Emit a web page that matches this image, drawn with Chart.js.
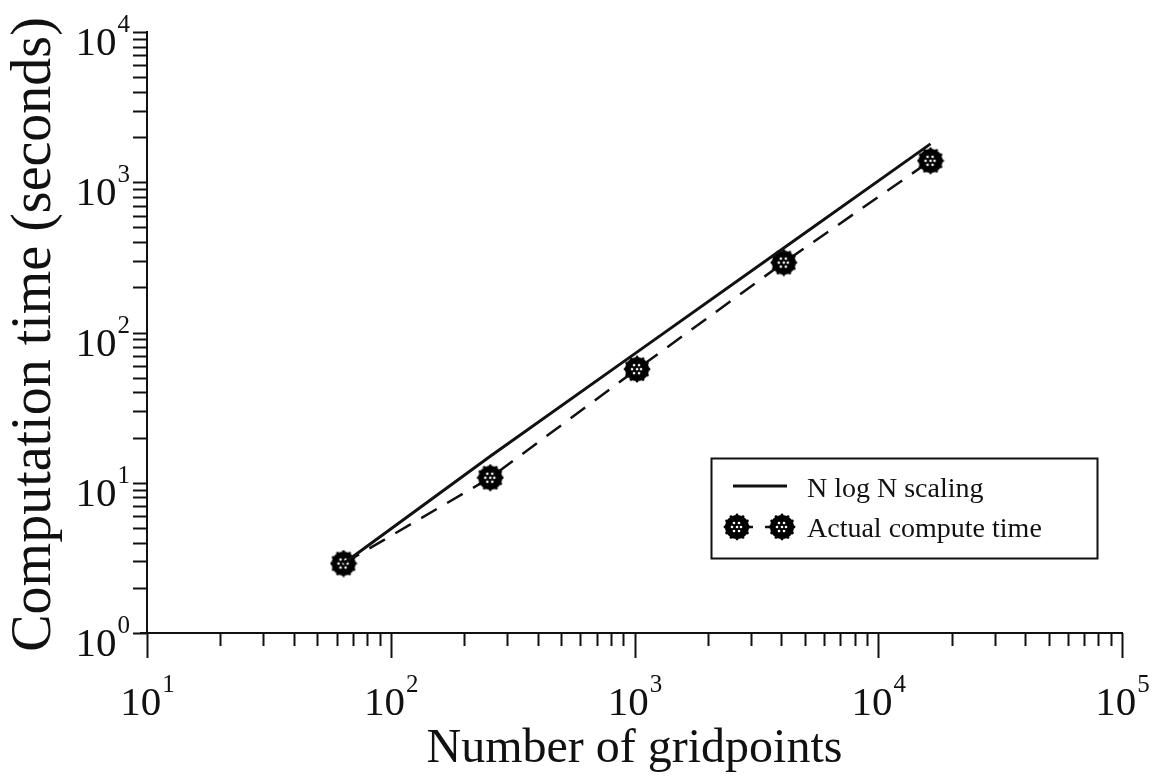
<!DOCTYPE html>
<html>
<head>
<meta charset="utf-8">
<script src="https://cdn.jsdelivr.net/npm/chart.js@4/dist/chart.umd.min.js"></script>
<style>
  html, body { margin: 0; padding: 0; background: #fff; }
  #wrap { width: 1159px; height: 779px; }
</style>
</head>
<body>
<div id="wrap"><canvas id="timeChart" width="1159" height="779"></canvas></div>
<script>
// datos
const gridpoints = [64, 256, 1024, 4096, 16384];
const nlognTime = [2.9, 15, 74, 365, 1800];
const actualTime = [2.9, 10.8, 57, 292, 1390];
const xDecades = [1, 2, 3, 4, 5];
const yDecades = [0, 1, 2, 3, 4];
const FONT = '"Liberation Serif", "Times New Roman", serif';
const INK = '#111';

// marcador: circulo negro con puntitos blancos
const marker = document.createElement('canvas');
marker.width = 28; marker.height = 28;
(() => {
    const c = marker.getContext('2d');
    c.fillStyle = '#000';
    c.beginPath(); c.arc(14, 14, 12, 0, Math.PI * 2); c.fill();
    // borde un poco dentado
    for (let k = 0; k < 12; k++) {
        const t = k * Math.PI / 6;
        c.beginPath(); c.arc(14 + 12 * Math.cos(t), 14 + 12 * Math.sin(t), 1.4, 0, Math.PI * 2); c.fill();
    }
    c.fillStyle = '#fff';
    [[-3, -4], [2, -4], [-5, 0], [0, 0], [4, 0], [-3, 4], [2, 4]].forEach(([dx, dy]) => {
        c.beginPath(); c.arc(14 + dx, 14 + dy, 1.3, 0, Math.PI * 2); c.fill();
    });
})();

const pts = vals => gridpoints.map((n, i) => ({ x: n, y: vals[i] }));

const axisDeco = {
    id: 'axisDeco',
    afterDraw(chart) {
        const { ctx, chartArea: a, scales: { x, y } } = chart;
        ctx.save();
        ctx.strokeStyle = INK;
        ctx.lineWidth = 2;
        // marcas del eje x
        for (let e = 1; e < 5; e++) {
            for (let m = 1; m < 10; m++) {
                const px = Math.round(x.getPixelForValue(m * Math.pow(10, e))) + 0.5;
                ctx.beginPath(); ctx.moveTo(px, a.bottom); ctx.lineTo(px, a.bottom + (m === 1 ? 25 : 13)); ctx.stroke();
            }
        }
        const pe = Math.round(x.getPixelForValue(1e5)) + 0.5;
        ctx.beginPath(); ctx.moveTo(pe, a.bottom); ctx.lineTo(pe, a.bottom + 25); ctx.stroke();
        // marcas del eje y
        for (let e = 0; e < 4; e++) {
            for (let m = 1; m < 10; m++) {
                const py = Math.round(y.getPixelForValue(m * Math.pow(10, e))) + 0.5;
                ctx.beginPath(); ctx.moveTo(a.left, py); ctx.lineTo(a.left - 14, py); ctx.stroke();
            }
        }
        const pt = Math.round(y.getPixelForValue(1e4)) + 0.5;
        ctx.beginPath(); ctx.moveTo(a.left, pt); ctx.lineTo(a.left - 14, pt); ctx.stroke();
        ctx.beginPath(); ctx.moveTo(a.left - 7, a.bottom); ctx.lineTo(a.left, a.bottom); ctx.stroke();

        // etiquetas 10^n
        ctx.fillStyle = INK;
        ctx.textBaseline = 'alphabetic';
        const big = '41px ' + FONT, small = '25px ' + FONT;
        xDecades.forEach(e => {
            const px = x.getPixelForValue(Math.pow(10, e));
            ctx.font = big; const w1 = ctx.measureText('10').width;
            ctx.font = small; const w2 = ctx.measureText(String(e)).width;
            const x0 = px - (w1 + w2) / 2;
            ctx.font = big; ctx.textAlign = 'left'; ctx.fillText('10', x0, a.bottom + 82);
            ctx.font = small; ctx.fillText(String(e), x0 + w1 + 1, a.bottom + 59);
        });
        yDecades.forEach(e => {
            const py = y.getPixelForValue(Math.pow(10, e));
            ctx.font = small; const w2 = ctx.measureText(String(e)).width;
            const right = a.left - 17;
            ctx.textAlign = 'left';
            ctx.fillText(String(e), right - w2, py);
            ctx.font = big;
            const w1 = ctx.measureText('10').width;
            ctx.fillText('10', right - w2 - w1 - 1, py + 23);
        });

        // titulos de ejes
        ctx.textAlign = 'center';
        ctx.font = '48px ' + FONT;
        ctx.fillText('Number of gridpoints', (a.left + a.right) / 2, 762);
        ctx.save();
        ctx.translate(50, (a.top + a.bottom) / 2 + 2);
        ctx.rotate(-Math.PI / 2);
        ctx.font = '56px ' + FONT;
        ctx.fillText('Computation time (seconds)', 0, 0);
        ctx.restore();

        // leyenda
        const L = { l: 711, t: 458, r: 1097, b: 558 };
        ctx.lineWidth = 2;
        ctx.strokeRect(L.l + 0.5, L.t + 0.5, L.r - L.l, L.b - L.t);
        ctx.font = '28px ' + FONT;
        ctx.textAlign = 'left';
        const ds = chart.data.datasets;
        ctx.lineWidth = 3;
        ctx.beginPath(); ctx.moveTo(733, 486); ctx.lineTo(787, 486); ctx.stroke();
        ctx.fillText(ds[0].label, 807, 497);
        ctx.lineWidth = 2.5;
        ctx.beginPath(); ctx.moveTo(745, 527); ctx.lineTo(753, 527); ctx.stroke();
        ctx.beginPath(); ctx.moveTo(765, 527); ctx.lineTo(776, 527); ctx.stroke();
        ctx.drawImage(marker, 737 - 14, 527 - 14);
        ctx.drawImage(marker, 782 - 14, 527 - 14);
        ctx.fillText(ds[1].label, 807, 537);
        ctx.restore();
    }
};

const timeChart = new Chart(document.getElementById('timeChart').getContext('2d'), {
    type: 'scatter',
    data: {
        datasets: [{
            label: 'N log N scaling',
            data: pts(nlognTime),
            showLine: true,
            borderColor: INK,
            borderWidth: 3,
            pointRadius: 0
        }, {
            label: 'Actual compute time',
            data: pts(actualTime),
            showLine: true,
            borderColor: INK,
            borderWidth: 2.5,
            borderDash: [18, 12],
            pointStyle: marker,
            pointRadius: 12
        }]
    },
    plugins: [axisDeco],
    options: {
        responsive: false,
        animation: false,
        devicePixelRatio: 1,
        layout: { padding: { left: 147, right: 37, top: 32, bottom: 146 } },
        plugins: { legend: { display: false }, tooltip: { enabled: false } },
        scales: {
            x: {
                type: 'logarithmic', min: 10, max: 1e5,
                grid: { display: false },
                ticks: { display: false },
                border: { display: true, color: INK, width: 2 },
                afterFit: s => { s.height = 0; }
            },
            y: {
                type: 'logarithmic', min: 1, max: 1e4,
                grid: { display: false },
                ticks: { display: false },
                border: { display: true, color: INK, width: 2 },
                afterFit: s => { s.width = 0; }
            }
        }
    }
});
</script>
</body>
</html>
